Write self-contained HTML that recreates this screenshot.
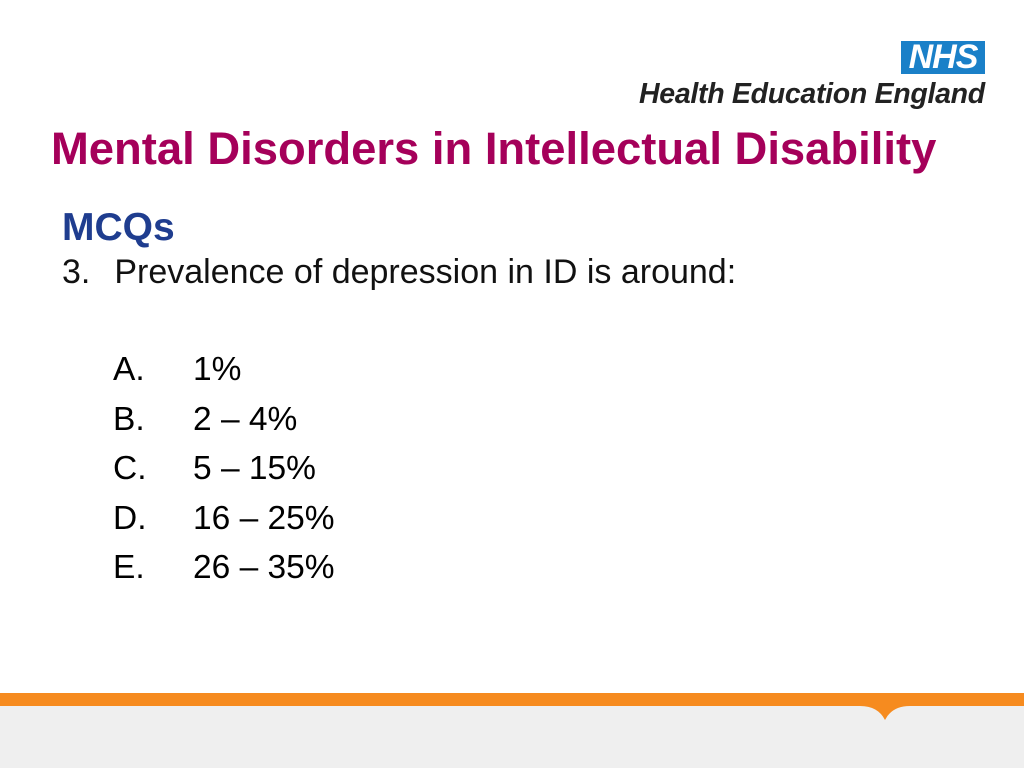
<!DOCTYPE html>
<html><head><meta charset="utf-8"><style>
body{margin:0;width:1024px;height:768px;position:relative;overflow:hidden;background:#fff;font-family:"Liberation Sans",Arial,sans-serif}
.a{position:absolute;white-space:nowrap}
.o{font-size:33.5px;line-height:40px}
.o span{display:inline-block;width:80px}
</style></head><body>
<div class="a" style="left:901px;top:41px;width:84px;height:33px;background:#1a80c8;color:#fff;font-weight:bold;font-style:italic;font-size:34px;line-height:33px;text-align:center;letter-spacing:-1px">NHS</div>
<div class="a" style="left:639px;top:77px;font-size:28.5px;font-weight:bold;font-style:italic;color:#222;line-height:34px;letter-spacing:-0.3px">Health Education England</div>
<div class="a" style="left:51px;top:122px;font-size:45.4px;font-weight:bold;color:#a5005a;line-height:54px">Mental Disorders in Intellectual Disability</div>
<div class="a" style="left:62px;top:205px;font-size:39px;font-weight:bold;color:#1f3d8f;line-height:46px">MCQs</div>
<div class="a" style="left:62px;top:252px;color:#111;font-size:34px;line-height:40px">3.<span style="display:inline-block;width:24px"></span>Prevalence of depression in ID is around:</div>
<div>
<div class="a o" style="left:113px;top:350px"><span>A.</span>1%</div>
<div class="a o" style="left:113px;top:400px"><span>B.</span>2 – 4%</div>
<div class="a o" style="left:113px;top:449px"><span>C.</span>5 – 15%</div>
<div class="a o" style="left:113px;top:499px"><span>D.</span>16 – 25%</div>
<div class="a o" style="left:113px;top:548px"><span>E.</span>26 – 35%</div>
</div>
<svg class="a" style="left:0;top:693px" width="1024" height="75">
<rect x="0" y="0" width="1024" height="75" fill="#efefef"/>
<rect x="0" y="0" width="1024" height="13" fill="#f68b1f"/>
<path d="M860 13 Q878 13 885 27 Q892 13 910 13 Z" fill="#f68b1f"/>
</svg>
</body></html>
